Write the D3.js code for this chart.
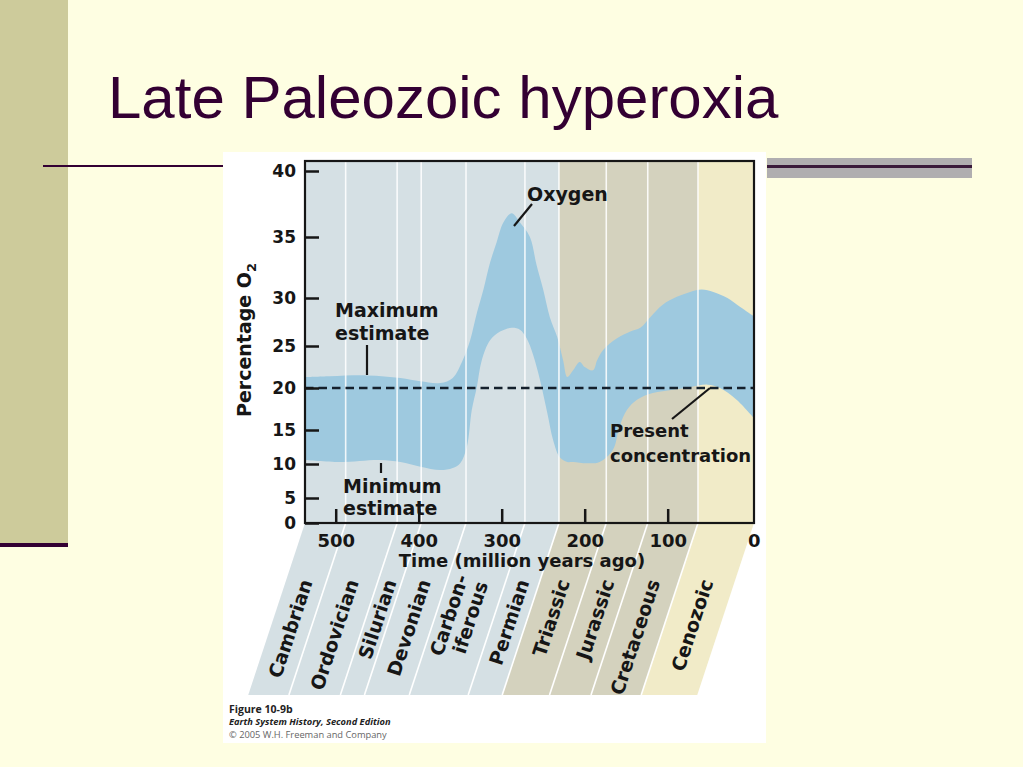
<!DOCTYPE html>
<html><head><meta charset="utf-8">
<script src="https://cdn.jsdelivr.net/npm/d3@7"></script>
<style>body{margin:0;background:#fefee2;} svg{display:block}</style>
</head><body>
<svg id="c" width="1023" height="767"></svg>
<script>
// ---------------- data ----------------
const title = "Late Paleozoic hyperoxia";
const periods = ["Cambrian","Ordovician","Silurian","Devonian","Carbon-|iferous","Permian","Triassic","Jurassic","Cretaceous","Cenozoic"];
const periodStart = [537, 488, 426, 397, 343, 272, 231, 174, 124, 63.5];
const periodEnd   = [488, 426, 397, 343, 272, 231, 174, 124, 63.5, -4];
const periodEra   = ["Paleozoic","Paleozoic","Paleozoic","Paleozoic","Paleozoic","Paleozoic","Mesozoic","Mesozoic","Mesozoic","Cenozoic"];
const maxAge = [537,507,462,422,398,374,359,347,338,330,322,314,306,298,288,278,266,258,250,242,233,226,221,214,206,200,190,185,178,161,145,133,121,106,89,73,59,45,28,13,-4];
const maxO2  = [21.3,21.4,21.5,21.2,20.8,20.6,21.2,23.3,25.6,28.4,30.7,32.9,34.6,36.1,36.8,36.1,35,32.7,30.7,28.0,25.9,23.3,21.3,22.1,23.1,22.5,22.1,23.3,24.5,25.8,26.5,26.9,28.0,29.3,30.1,30.5,30.7,30.5,30,29.1,28.1];
const minAge = [537,495,447,422,398,374,359,350,342,336,330,324,314,302,288,278,270,262,254,245,238,230,221,214,197,182,166,158,149,137,118,94,73,52,37,17,-4];
const minO2  = [10.6,10.3,10.6,10.3,9.6,9.1,9.4,10.1,12.5,17.4,20.1,23.3,25.6,26.5,26.9,26.7,25.8,23.9,21,17,13.5,11.0,10.3,10.3,10.1,10.3,12.1,15.4,17.4,18.6,19.4,19.8,20.1,20.4,20,18.6,16.4];
const presentO2 = 20;
const xTicks = [500,400,300,200,100,0];
const yTicks = [0,5,10,15,20,25,30,35,40];
const captions = ["Figure 10-9b","Earth System History, Second Edition","\u00A9 2005 W.H. Freeman and Company"];

// ---------------- drawing ----------------
const svg = d3.select("#c");
const F = "'DejaVu Sans', sans-serif";
const ink = "#161616";
const eraColor = {Paleozoic:"#d5e0e4", Mesozoic:"#d4d2be", Cenozoic:"#f1ebc8"};

// slide decoration
svg.append("rect").attr("width",1023).attr("height",767).attr("fill","#fefee2");
svg.append("rect").attr("x",0).attr("y",0).attr("width",68).attr("height",543).attr("fill","#cdcb9b");
svg.append("rect").attr("x",0).attr("y",543).attr("width",68).attr("height",4).attr("fill","#330033");
svg.append("rect").attr("x",43).attr("y",165).attr("width",182).attr("height",2).attr("fill","#330033");
svg.append("rect").attr("x",767).attr("y",158).attr("width",205).attr("height",20).attr("fill","#b0aeb0");
svg.append("rect").attr("x",767).attr("y",165).attr("width",205).attr("height",3).attr("fill","#3a1a3a");
svg.append("text").attr("x",108).attr("y",118).attr("font-family","'Liberation Sans', Arial, sans-serif")
  .attr("font-size",60).attr("fill","#330033").text(title);

// chart image box
svg.append("rect").attr("x",223).attr("y",152).attr("width",543).attr("height",591).attr("fill","#ffffff");

const L = 305, R = 754, T = 161, B = 523, YB = 695, slant = 0.33;
const x = d3.scaleLinear().domain([537,-4]).range([L,R]);
const y = d3.scaleLinear().domain(yTicks).range([523,498,464,430,388,346,298,237,171]);

svg.append("clipPath").attr("id","plot").append("rect").attr("x",L).attr("y",T).attr("width",R-L).attr("height",B-T);

const pd = periods.map((p,i)=>({name:p, s:periodStart[i], e:periodEnd[i], era:periodEra[i]}));

// plot bands
svg.append("g").selectAll("rect").data(pd).join("rect")
  .attr("x",d=>x(d.s)).attr("width",d=>x(d.e)-x(d.s)).attr("y",T).attr("height",B-T)
  .attr("fill",d=>eraColor[d.era]);

// slanted label bands
const sh = slant*(YB-B);
svg.append("g").selectAll("path").data(pd).join("path")
  .attr("d",d=>`M${x(d.s)},${B}L${x(d.e)},${B}L${x(d.e)-sh},${YB}L${x(d.s)-sh},${YB}Z`)
  .attr("fill",d=>eraColor[d.era]);

// oxygen envelope
const upper = maxAge.map((a,i)=>[x(a),y(maxO2[i])]);
const lower = minAge.map((a,i)=>[x(a),y(minO2[i])]).reverse();
const line = d3.line().curve(d3.curveCatmullRom.alpha(0.5));
const pathStr = line(upper) + line(lower).replace(/^M/,"L") + "Z";
svg.append("path").attr("d",pathStr).attr("fill","#9ec9df").attr("clip-path","url(#plot)");

// white period boundary lines
const bounds = pd.slice(1).map(d=>d.s);
svg.append("g").selectAll("line").data(bounds).join("line")
  .attr("x1",d=>x(d)).attr("x2",d=>x(d)).attr("y1",T).attr("y2",B)
  .attr("stroke","#ffffff").attr("stroke-width",1.6).attr("stroke-opacity",0.85);
svg.append("g").selectAll("line").data(bounds).join("line")
  .attr("x1",d=>x(d)).attr("x2",d=>x(d)-sh).attr("y1",B).attr("y2",YB)
  .attr("stroke","#ffffff").attr("stroke-width",1.6);

// present concentration
svg.append("line").attr("x1",L).attr("x2",R).attr("y1",y(presentO2)).attr("y2",y(presentO2))
  .attr("stroke","#14202c").attr("stroke-width",2.5).attr("stroke-dasharray","8.5,5");

// frame
svg.append("rect").attr("x",L).attr("y",T).attr("width",R-L).attr("height",B-T)
  .attr("fill","none").attr("stroke",ink).attr("stroke-width",2.2);

// axes
const ya = svg.append("g").attr("transform",`translate(${L},0)`)
  .call(d3.axisLeft(y).tickValues(yTicks).tickSizeInner(-14).tickSizeOuter(0).tickPadding(9));
ya.select(".domain").remove();
ya.selectAll("line").attr("stroke",ink).attr("stroke-width",2.5);
ya.selectAll("text").attr("font-family",F).attr("font-weight","bold").attr("font-size",17).attr("fill",ink);

const xa = svg.append("g").attr("transform",`translate(0,${B})`)
  .call(d3.axisBottom(x).tickValues(xTicks).tickSizeInner(-14).tickSizeOuter(0).tickPadding(11));
xa.select(".domain").remove();
xa.selectAll(".tick").filter(d=>d===0).select("line").remove();
xa.selectAll(".tick").filter(d=>d===0).select("text").attr("dx",3);
xa.selectAll("line").attr("stroke",ink).attr("stroke-width",2.5);
xa.selectAll("text").attr("font-family",F).attr("font-weight","bold").attr("font-size",18).attr("fill",ink);

svg.append("text").attr("x",522).attr("y",567).attr("text-anchor","middle")
  .attr("font-family",F).attr("font-weight","bold").attr("font-size",18).attr("fill",ink)
  .text("Time (million years ago)");

const yl = svg.append("text").attr("transform","translate(251,340) rotate(-90)").attr("text-anchor","middle")
  .attr("font-family",F).attr("font-weight","bold").attr("font-size",19).attr("fill",ink);
yl.append("tspan").text("Percentage O");
yl.append("tspan").attr("font-size",13).attr("dy",5).text("2");

// period labels
const labY = 580, ang = -90 + Math.atan(slant)*180/Math.PI;
const lg = svg.append("g").attr("font-family",F).attr("font-weight","bold").attr("font-size",19).attr("fill",ink);
pd.forEach(d=>{
  const xc = (x(d.s)+x(d.e))/2 - slant*(labY-B);
  const t = lg.append("text").attr("transform",`translate(${xc},${labY}) rotate(${ang})`).attr("text-anchor","end");
  const parts = d.name.split("|");
  if (parts.length===1) { t.attr("dy","0.35em").text(parts[0]); }
  else {
    t.append("tspan").attr("x",0).attr("dy","-0.45em").text(parts[0]);
    t.append("tspan").attr("x",0).attr("dy","1.1em").text(parts[1]);
  }
});

// annotations
const ag = svg.append("g").attr("font-family",F).attr("font-weight","bold").attr("font-size",19).attr("fill",ink);
ag.append("text").attr("x",527).attr("y",201).text("Oxygen");
ag.append("text").attr("x",335).attr("y",317).text("Maximum");
ag.append("text").attr("x",335).attr("y",340).text("estimate");
ag.append("text").attr("x",343).attr("y",493).text("Minimum");
ag.append("text").attr("x",343).attr("y",515).text("estimate");
ag.append("text").attr("x",610).attr("y",437).attr("font-size",18).text("Present");
ag.append("text").attr("x",610).attr("y",462).attr("font-size",18).text("concentration");
const lk = svg.append("g").attr("stroke",ink).attr("stroke-width",2.2);
lk.append("line").attr("x1",532).attr("y1",204).attr("x2",514).attr("y2",226);
lk.append("line").attr("x1",367).attr("y1",345).attr("x2",367).attr("y2",375);
lk.append("line").attr("x1",381).attr("y1",463).attr("x2",381).attr("y2",473);
lk.append("line").attr("x1",672).attr("y1",419).attr("x2",710).attr("y2",388);

// caption
const cg = svg.append("g").attr("font-family","'Open Sans', sans-serif").attr("fill","#222");
cg.append("text").attr("x",229).attr("y",713).attr("font-size",10.5).attr("font-weight","bold").text(captions[0]);
cg.append("text").attr("x",229).attr("y",725).attr("font-size",9.3).attr("font-weight","bold").attr("font-style","italic").text(captions[1]);
cg.append("text").attr("x",229).attr("y",738).attr("font-size",9.3).attr("fill","#666").text(captions[2]);
</script>
</body></html>
